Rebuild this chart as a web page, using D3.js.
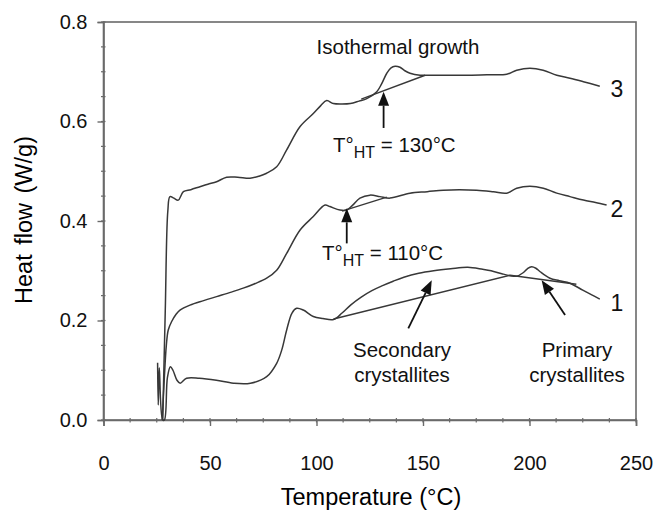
<!DOCTYPE html>
<html>
<head>
<meta charset="utf-8">
<script src="https://cdn.jsdelivr.net/npm/d3@7"></script>
<style>
  html, body { margin: 0; padding: 0; background: #fff; }
  svg { display: block; font-family: Arial, "Liberation Sans", Helvetica, sans-serif; }
</style>
</head>
<body>
<svg id="chart" width="653" height="511"></svg>
<script>
// DSC heating traces after isothermal growth (temperature in °C, heat flow in W/g)
const temp1 = [25.4, 25.7, 26.2, 27.8, 28.6, 30.0, 31.4, 32.6, 34.5, 36.0, 39, 45, 53, 61, 69, 76.6, 81.3, 83.7, 86, 88.5, 90.7, 93.8, 98.5, 103, 108, 112, 116, 121, 126, 131, 136, 141, 148, 155, 163, 171, 178, 182, 187, 191, 194, 197, 199, 201, 203, 205, 209.6, 214, 219, 225, 229, 233];
const flow1 = [0.115, 0.03, 0.105, 0.0, 0.0, 0.085, 0.107, 0.1, 0.08, 0.074, 0.084, 0.084, 0.08, 0.074, 0.074, 0.087, 0.114, 0.141, 0.181, 0.215, 0.2245, 0.221, 0.208, 0.204, 0.202, 0.215, 0.231, 0.247, 0.26, 0.27, 0.279, 0.287, 0.295, 0.30, 0.304, 0.307, 0.303, 0.30, 0.294, 0.29, 0.289, 0.296, 0.304, 0.308, 0.305, 0.298, 0.285, 0.28, 0.275, 0.261, 0.252, 0.243];

const temp2 = [27.6, 28.5, 29.5, 30.4, 32, 34, 35.9, 40.6, 47, 53.1, 60, 65.6, 71, 76.6, 81.3, 86, 92.3, 98.5, 104, 106.3, 111, 114.2, 117, 120.4, 125.1, 129.8, 134.5, 143.9, 152, 159.5, 167, 175.2, 183, 189.3, 194, 200.2, 206.5, 212.8, 219, 225.3, 231, 236.2];
const flow2 = [0.0, 0.08, 0.15, 0.181, 0.198, 0.212, 0.221, 0.231, 0.24, 0.248, 0.257, 0.265, 0.274, 0.285, 0.301, 0.335, 0.382, 0.409, 0.432, 0.429, 0.422, 0.422, 0.432, 0.446, 0.452, 0.449, 0.446, 0.456, 0.459, 0.462, 0.463, 0.462, 0.459, 0.456, 0.466, 0.47, 0.466, 0.456, 0.449, 0.442, 0.437, 0.432];

const temp3 = [27.8, 29.0, 30.2, 31.2, 33, 35.1, 37.5, 41, 45.3, 49, 53.1, 57.8, 63, 68.8, 73, 76.6, 81.3, 86, 92.3, 98.5, 102, 104.8, 107.9, 112, 115.9, 120, 123.6, 128.3, 130.5, 133, 135, 136.9, 139.2, 141.5, 143.9, 148.6, 151.7, 160, 170, 180, 189.3, 194, 200.2, 206.4, 212.8, 219, 225.3, 233];
const flow3 = [0.0, 0.22, 0.42, 0.449, 0.446, 0.442, 0.459, 0.463, 0.469, 0.474, 0.479, 0.488, 0.488, 0.486, 0.49, 0.496, 0.509, 0.543, 0.59, 0.616, 0.632, 0.642, 0.636, 0.635, 0.636, 0.641, 0.646, 0.66, 0.675, 0.697, 0.708, 0.711, 0.709, 0.702, 0.697, 0.693, 0.693, 0.693, 0.693, 0.694, 0.695, 0.703, 0.707, 0.703, 0.693, 0.687, 0.68, 0.671];

// Straight baselines drawn under the melting endotherms
const baseTemp1 = [108, 191, 222];
const baseFlow1 = [0.203, 0.291, 0.273];
const baseTemp2 = [112, 133];
const baseFlow2 = [0.420, 0.448];
const baseTemp3 = [121, 151];
const baseFlow3 = [0.645, 0.693];

// Axis ticks
const xTicks = [0, 50, 100, 150, 200, 250];
const yTicks = [0.0, 0.2, 0.4, 0.6, 0.8];
const xMinor = d3.range(0, 250.01, 12.5);
const yMinor = d3.range(0, 0.801, 0.05);

const svg = d3.select("#chart");
const x = d3.scaleLinear().domain([0, 250]).range([103.5, 636]);
const y = d3.scaleLinear().domain([0, 0.8]).range([420, 22]);

const axisColor = "#6a6a6a";
const lineColor = "#383838";
const textColor = "#111";

// Frame
svg.append("rect")
  .attr("x", x(0)).attr("y", y(0.8))
  .attr("width", x(250) - x(0)).attr("height", y(0) - y(0.8))
  .attr("fill", "none").attr("stroke", axisColor).attr("stroke-width", 1.6);

// Minor ticks (crossing the axis lines)
svg.append("g").selectAll("line").data(xMinor).join("line")
  .attr("x1", d => x(d)).attr("x2", d => x(d))
  .attr("y1", y(0) - 2).attr("y2", y(0) + 2.5)
  .attr("stroke", axisColor).attr("stroke-width", 1.2);
svg.append("g").selectAll("line").data(yMinor).join("line")
  .attr("y1", d => y(d)).attr("y2", d => y(d))
  .attr("x1", x(0) - 2.5).attr("x2", x(0) + 2)
  .attr("stroke", axisColor).attr("stroke-width", 1.2);

// Major axes
const xAxis = d3.axisBottom(x).tickValues(xTicks).tickFormat(d3.format("d")).tickSize(6).tickPadding(30);
const yAxis = d3.axisLeft(y).tickValues(yTicks).tickFormat(d3.format(".1f")).tickSize(6).tickPadding(10);

const gx = svg.append("g").attr("transform", `translate(0,${y(0)})`).call(xAxis);
const gy = svg.append("g").attr("transform", `translate(${x(0)},0)`).call(yAxis);
[gx, gy].forEach(g => {
  g.select(".domain").attr("stroke", axisColor).attr("stroke-width", 1.6);
  g.selectAll(".tick line").attr("stroke", axisColor).attr("stroke-width", 1.4);
  g.selectAll(".tick text").attr("fill", textColor)
    .style("font-size", "20px").style("font-family", "Arial, 'Liberation Sans', sans-serif");
});

// Axis titles
svg.append("text")
  .attr("x", 371).attr("y", 505)
  .attr("text-anchor", "middle")
  .attr("fill", "#000")
  .style("font-size", "23.5px")
  .text("Temperature (°C)");
svg.append("text")
  .attr("transform", "translate(32,220) rotate(-90)")
  .attr("text-anchor", "middle")
  .attr("fill", "#000")
  .style("font-size", "23.5px")
  .attr("word-spacing", "3px")
  .text("Heat flow (W/g)");

// Curves
const line = d3.line().x(d => x(d[0])).y(d => y(d[1])).curve(d3.curveCatmullRom.alpha(0.5));
const straight = d3.line().x(d => x(d[0])).y(d => y(d[1]));

const traces = [
  d3.zip(temp1, flow1),
  d3.zip(temp2, flow2),
  d3.zip(temp3, flow3)
];
svg.append("g").selectAll("path").data(traces).join("path")
  .attr("d", line)
  .attr("fill", "none").attr("stroke", lineColor).attr("stroke-width", 1.5)
  .attr("stroke-linejoin", "round");

const baselines = [
  d3.zip(baseTemp1, baseFlow1),
  d3.zip(baseTemp2, baseFlow2),
  d3.zip(baseTemp3, baseFlow3)
];
svg.append("g").selectAll("path").data(baselines).join("path")
  .attr("d", straight)
  .attr("fill", "none").attr("stroke", lineColor).attr("stroke-width", 1.4);

// Curve numbers
const curveLabels = [
  { t: 241, h: 0.235, text: "1" },
  { t: 241, h: 0.425, text: "2" },
  { t: 241, h: 0.665, text: "3" }
];
svg.append("g").selectAll("text").data(curveLabels).join("text")
  .attr("x", d => x(d.t)).attr("y", d => y(d.h) + 8)
  .attr("text-anchor", "middle")
  .attr("fill", textColor)
  .style("font-size", "23px")
  .text(d => d.text);

// Arrows
const arrows = [
  { from: [131.5, 0.587], to: [131.5, 0.660] },
  { from: [114.2, 0.355], to: [114.2, 0.4255] },
  { from: [143.1, 0.184], to: [154.1, 0.281] },
  { from: [216.7, 0.211], to: [205.7, 0.281] }
];
const ga = svg.append("g");
arrows.forEach(a => {
  const x1 = x(a.from[0]), y1 = y(a.from[1]), x2 = x(a.to[0]), y2 = y(a.to[1]);
  const ang = Math.atan2(y2 - y1, x2 - x1);
  const len = 14, half = 5.5;
  const bx = x2 - len * Math.cos(ang), by = y2 - len * Math.sin(ang);
  ga.append("line")
    .attr("x1", x1).attr("y1", y1).attr("x2", bx).attr("y2", by)
    .attr("stroke", "#111").attr("stroke-width", 1.8);
  const px = -Math.sin(ang) * half, py = Math.cos(ang) * half;
  ga.append("path")
    .attr("d", `M${x2},${y2}L${bx + px},${by + py}L${bx - px},${by - py}Z`)
    .attr("fill", "#111");
});

// Text annotations
svg.append("text")
  .attr("x", 398).attr("y", 54)
  .attr("text-anchor", "middle").attr("fill", textColor)
  .style("font-size", "20.5px")
  .text("Isothermal growth");

function heatTreatLabel(px, py, value) {
  const t = svg.append("text").attr("x", px).attr("y", py).attr("fill", textColor).style("font-size", "20.5px");
  t.append("tspan").text("T°");
  t.append("tspan").attr("dy", 6).style("font-size", "16px").text("HT");
  t.append("tspan").attr("dy", -6).text(" = " + value + "°C");
}
heatTreatLabel(333, 152, 130);
heatTreatLabel(322, 260, 110);

const multiLabels = [
  { cx: 402, cy: 357, lines: ["Secondary", "crystallites"] },
  { cx: 577, cy: 357, lines: ["Primary", "crystallites"] }
];
multiLabels.forEach(m => {
  const t = svg.append("text").attr("text-anchor", "middle").attr("fill", textColor).style("font-size", "20.5px");
  m.lines.forEach((s, i) => t.append("tspan").attr("x", m.cx).attr("y", m.cy + i * 25).text(s));
});
</script>
</body>
</html>
